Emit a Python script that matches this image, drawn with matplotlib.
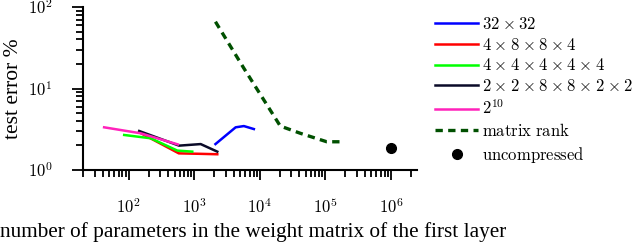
import matplotlib
matplotlib.use("Agg")
import matplotlib.pyplot as plt
from matplotlib.ticker import FuncFormatter, LogLocator
import numpy as np

plt.rcParams['mathtext.fontset'] = 'cm'
plt.rcParams['font.family'] = ['Liberation Serif', 'DejaVu Serif']

# data
tt32_x = [2100, 4270, 5700, 8100]
tt32_y = [2.08, 3.34, 3.46, 3.18]

tt4884_x = [150, 580, 1200, 2240]
tt4884_y = [2.85, 1.60, 1.58, 1.56]

tt44444_x = [85, 216, 550, 930]
tt44444_y = [2.69, 2.45, 1.73, 1.68]

tt228822_x = [144, 584, 1250, 2240]
tt228822_y = [3.01, 1.99, 2.08, 1.68]

tt2_10_x = [42, 152, 560]
tt2_10_y = [3.34, 2.82, 2.06]

rank_x = [2100, 5700, 20500, 41500, 105000, 170000]
rank_y = [66, 17.7, 3.46, 2.82, 2.22, 2.22]

unc_x = [1e6]
unc_y = [1.88]

sp = r'\hspace{0.04}'
labels = [r'$32' + sp + r'\times' + sp + '32$',
          r'$4' + (sp + r'\times' + sp).join(['', '8', '8', '4']) + '$',
          r'$4' + (sp + r'\times' + sp).join(['', '4', '4', '4', '4']) + '$',
          r'$2' + (sp + r'\times' + sp).join(['', '2', '8', '8', '2', '2']) + '$',
          r'$2^{10}$',
          r'$\mathrm{matrix\ rank}$', r'$\mathrm{uncompressed}$']

fig = plt.figure(figsize=(6.4, 2.44), dpi=100)
ax = fig.add_axes([83/640, 1-170/244, 334/640, 163/244])

lw = 1.8
ax.plot(tt32_x, tt32_y, color='#0000ff', lw=lw, label=labels[0])
ax.plot(tt4884_x, tt4884_y, color='#ff0000', lw=lw, label=labels[1])
ax.plot(tt44444_x, tt44444_y, color='#00ff00', lw=lw, label=labels[2])
ax.plot(tt228822_x, tt228822_y, color='#0a0a28', lw=lw, label=labels[3])
ax.plot(tt2_10_x, tt2_10_y, color='#ff22bb', lw=lw, label=labels[4])
ax.plot(rank_x, rank_y, color='#005000', lw=2.4, ls=(0, (2.2, 1.6)), label=labels[5])
ax.plot(unc_x, unc_y, 'o', color='black', ms=7, label=labels[6])

ax.set_xscale('log')
ax.set_yscale('log')
ax.set_xlim(20, 2.5e6)
ax.set_ylim(1, 100)

for s in ['top', 'right']:
    ax.spines[s].set_visible(False)
for s in ['left', 'bottom']:
    ax.spines[s].set_linewidth(1.5)

fmt = FuncFormatter(lambda v, p: r'$10^{%d}$' % int(round(np.log10(v))))
ax.xaxis.set_major_locator(LogLocator(base=10, numticks=20))
ax.xaxis.set_minor_locator(LogLocator(base=10, subs=np.arange(2, 10), numticks=20))
ax.xaxis.set_major_formatter(fmt)
ax.yaxis.set_major_formatter(fmt)
ax.tick_params(axis='x', which='major', length=7, width=1.3, pad=13, labelsize=12)
ax.tick_params(axis='x', which='minor', length=5, width=1.3)
ax.tick_params(axis='y', which='major', length=8, width=1.3, pad=14, labelsize=12)
ax.tick_params(axis='y', which='minor', length=5, width=1.3)

ax.set_ylabel('test error %', fontsize=15.5)
ax.yaxis.set_label_coords(-0.18, 0.5)
ax.set_xlabel('number of parameters in the weight matrix of the first layer', fontsize=15.3)
ax.xaxis.set_label_coords(0.51, -0.32)

fig.legend(loc='upper left', bbox_to_anchor=(435/640, 1-17/244), frameon=False,
           fontsize=12, handlelength=2.6, handletextpad=0.25, labelspacing=0.28,
           borderaxespad=0, borderpad=0)

fig.savefig('out.png', dpi=100)
